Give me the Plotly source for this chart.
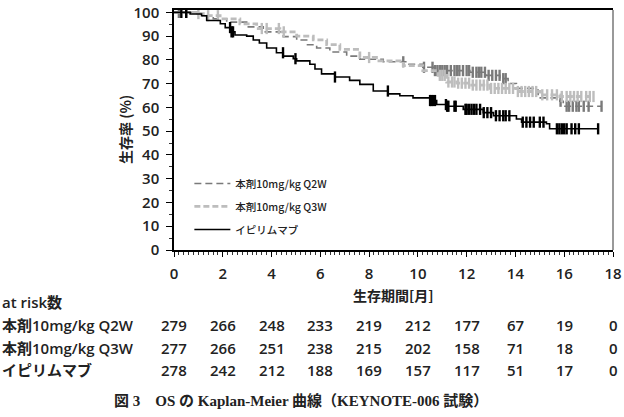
import numpy as np
import plotly.graph_objects as go

# ---------------- data ----------------
months_ticks = [0, 2, 4, 6, 8, 10, 12, 14, 16, 18]

# Kaplan-Meier step curves: times (months) and survival (%) after each step
q2w_t = [0, 0.93, 1.2, 1.61, 2.16, 2.98, 3.66, 4.48, 5.03, 5.44, 5.85, 6.39, 7.08, 7.62, 8.58,
         9.54, 10.2, 10.63, 12.13, 12.8, 13.36, 13.7, 14.04, 14.73, 14.93, 15.82, 15.96]
q2w_s = [100, 99.6, 98.6, 97.3, 95.9, 93.9, 91.8, 89.8, 88.4, 86.4, 85.0, 83.3, 81.6, 80.3, 79.2,
         78.2, 76.9, 75.5, 74.8, 73.5, 72.1, 70.1, 68.0, 67.3, 64.0, 62.6, 60.5]
q2w_end = 17.53
q2w_cens = [0.2, 0.5, 9.4, 10.25, 10.6, 10.7, 10.8, 10.9, 11.0, 11.1, 11.2, 11.35, 11.5, 11.6,
            11.7, 11.85, 12.0, 12.1, 12.25, 12.4, 12.5, 12.6, 12.75, 12.9, 13.05, 13.2, 13.35,
            13.5, 13.6, 15.85, 16.1, 16.2, 16.35, 16.5, 16.6, 16.8, 17.0, 17.53]

q3w_t = [0, 1.0, 1.2, 1.89, 2.7, 3.39, 4.34, 5.03, 5.71, 6.26, 6.8, 7.62, 8.3, 9.4, 10.2,
         10.83, 11.18, 11.6, 12.13, 12.95, 14.04, 15.0, 15.82]
q3w_s = [100, 99.5, 98.6, 97.3, 95.2, 93.2, 91.8, 90.0, 88.4, 86.4, 84.4, 81.0, 79.6, 77.6, 75.5,
         73.5, 70.7, 70.2, 69.4, 68.0, 66.7, 65.3, 64.6]
q3w_end = 17.2
q3w_cens = [1.0, 1.4, 1.8, 3.6, 3.8, 4.3, 4.5, 8.0, 10.9, 11.0, 11.1, 11.25, 11.4, 11.5, 11.65,
            11.8, 11.95, 12.1, 12.25, 12.4, 12.55, 12.7, 12.85, 13.0, 13.15, 13.3, 13.45, 13.6,
            13.75, 13.9, 14.1, 14.25, 14.4, 14.55, 14.7, 14.85, 15.1, 15.3, 15.5, 15.7, 15.9,
            16.1, 16.25, 16.4, 16.55, 16.7, 16.9, 17.05, 17.2]

ipi_t = [0, 0.66, 1.13, 1.34, 1.9, 2.1, 2.36, 2.5, 2.98, 3.25, 3.5, 3.8, 4.2, 4.48, 4.89, 5.03,
         5.57, 5.78, 6.05, 6.6, 7.2, 7.62, 8.17, 8.78, 9.26, 9.8, 10.5, 10.77, 11.18, 11.86,
         12.68, 13.1, 14.04, 14.25, 15.27, 15.4]
ipi_s = [100, 99.3, 98.6, 96.6, 95.2, 93.6, 91.8, 90.5, 90.0, 88.4, 87.1, 85.0, 83.0, 81.6, 80.5,
         79.6, 78.2, 76.2, 74.1, 72.8, 71.4, 69.7, 66.9, 65.7, 64.9, 64.0, 62.9, 61.2, 60.5,
         59.2, 57.8, 56.5, 55.1, 53.8, 53.1, 51.0]
ipi_end = 17.39
ipi_cens = [0.3, 0.5, 2.3, 2.36, 2.42, 4.47, 4.98, 6.6, 8.77, 10.5, 10.55, 10.62, 10.7, 11.15,
            11.2, 11.25, 11.5, 11.55, 11.95, 12.0, 12.1, 12.2, 12.3, 12.4, 12.55, 12.7, 12.85,
            13.0, 13.2, 13.35, 13.5, 13.6, 13.75, 14.3, 14.45, 14.6, 14.75, 15.0, 15.15, 15.7,
            15.8, 15.9, 16.0, 16.1, 16.3, 16.45, 16.6, 17.39]

risk_labels = ["本剤10mg/kg Q2W", "本剤10mg/kg Q3W", "イピリムマブ"]
risk_q2w = [279, 266, 248, 233, 219, 212, 177, 67, 19, 0]
risk_q3w = [277, 266, 251, 238, 215, 202, 158, 71, 18, 0]
risk_ipi = [278, 242, 212, 188, 169, 157, 117, 51, 17, 0]

# ---------------- figure ----------------
FONT = "Open Sans, Noto Sans CJK JP, sans-serif"
JPFONT = "Noto Sans CJK JP, sans-serif"

fig = go.Figure()

series = [
    ("本剤10mg/kg Q2W", q2w_t, q2w_s, q2w_end, q2w_cens, "#7a7a7a", 1.6, "7px,4px", "g1"),
    ("本剤10mg/kg Q3W", q3w_t, q3w_s, q3w_end, q3w_cens, "#bdbdbd", 2.8, "6px,3px", "g2"),
    ("イピリムマブ", ipi_t, ipi_s, ipi_end, ipi_cens, "#000000", 1.6, "solid", "g3"),
]

for name, t, s, tend, cens, col, w, dash, grp in series:
    xs = list(t) + [tend]
    ys = list(s) + [s[-1]]
    fig.add_trace(go.Scatter(
        x=xs, y=ys, mode="lines", name=name, legendgroup=grp,
        line=dict(color=col, width=w, dash=dash, shape="hv"),
    ))
    ta = np.array(t)
    idx = np.searchsorted(ta, np.array(cens), side="right") - 1
    cy = [s[i] for i in idx]
    fig.add_trace(go.Scatter(
        x=cens, y=cy, mode="markers", legendgroup=grp, showlegend=False,
        marker=dict(symbol="line-ns", size=8, line=dict(color=col, width=2.4)),
        hoverinfo="skip",
    ))

L, R, T, B = 174, 11, 2, 167
W, H = 624, 417
ph = H - T - B

def py(px):
    return (H - B - px) / ph

def pxx(px):
    return (px - L) / (W - L - R)

annotations = []
# axis titles
annotations.append(dict(text="生存率 (%)", x=pxx(125), y=0.5, xref="paper", yref="paper",
                        textangle=-90, showarrow=False, xanchor="center", yanchor="middle",
                        font=dict(family=JPFONT, size=14, color="#222", weight=600)))
annotations.append(dict(text="生存期間[月]", x=0.5, y=py(297), xref="paper", yref="paper",
                        showarrow=False, xanchor="center", yanchor="middle",
                        font=dict(family=JPFONT, size=14, color="#222", weight=600)))
# at-risk table
annotations.append(dict(text="at risk数", x=pxx(0), y=py(304), xref="paper", yref="paper",
                        showarrow=False, xanchor="left", yanchor="middle",
                        font=dict(family=FONT, size=15, color="#222", weight=600)))
row_y = [327, 351, 374]
for lab, vals, ry in zip(risk_labels, [risk_q2w, risk_q3w, risk_ipi], row_y):
    annotations.append(dict(text=lab, x=pxx(0), y=py(ry), xref="paper", yref="paper",
                            showarrow=False, xanchor="left", yanchor="middle",
                            font=dict(family=FONT, size=15, color="#222", weight=600)))
    for m, v in zip(months_ticks, vals):
        annotations.append(dict(text=str(v), x=m, y=py(ry), xref="x", yref="paper",
                                showarrow=False, xanchor="center", yanchor="middle",
                                font=dict(family=FONT, size=15, color="#222", weight=600)))
# caption
annotations.append(dict(text="図 3　OS の Kaplan-Meier 曲線（KEYNOTE-006 試験）",
                        x=pxx(301), y=py(406), xref="paper", yref="paper",
                        showarrow=False, xanchor="center", yanchor="middle",
                        font=dict(family="Liberation Serif, Noto Sans CJK JP, serif", size=15,
                                  color="#222", weight="bold")))

fig.update_layout(
    width=W, height=H,
    margin=dict(l=L, r=R, t=T, b=B),
    paper_bgcolor="white", plot_bgcolor="white",
    showlegend=True,
    legend=dict(x=0.035, y=py(205), xanchor="left", yanchor="middle",
                bgcolor="rgba(0,0,0,0)", tracegroupgap=4, traceorder="grouped",
                font=dict(family=JPFONT, size=10.5, color="#222", weight=500), itemwidth=36),
    annotations=annotations,
    shapes=[dict(type="line", xref="paper", yref="paper", x0=1, x1=1, y0=0, y1=1,
                 line=dict(color="#999999", width=2))],
    xaxis=dict(range=[0, 18], tick0=0, dtick=2, showgrid=False, zeroline=False,
               showline=True, linecolor="black", linewidth=1.5, mirror=True,
               ticks="outside", ticklen=5, tickwidth=1.2, tickcolor="black",
               minor=dict(dtick=0.2, ticks="outside", ticklen=3, tickwidth=1, tickcolor="#333"),
               ticklabelstandoff=4,
               tickfont=dict(family=FONT, size=15, color="#222", weight=600)),
    yaxis=dict(range=[0, 101], tick0=0, dtick=10, showgrid=False, zeroline=False,
               showline=True, linecolor="black", linewidth=1.5,
               ticks="outside", ticklen=6, tickwidth=1.2, tickcolor="black",
               minor=dict(dtick=5, ticks="outside", ticklen=3, tickwidth=1, tickcolor="#333"),
               ticklabelstandoff=4, ticklabeloverflow="allow",
               tickfont=dict(family=FONT, size=15, color="#222", weight=600)),
)

fig.write_html("out.html")
